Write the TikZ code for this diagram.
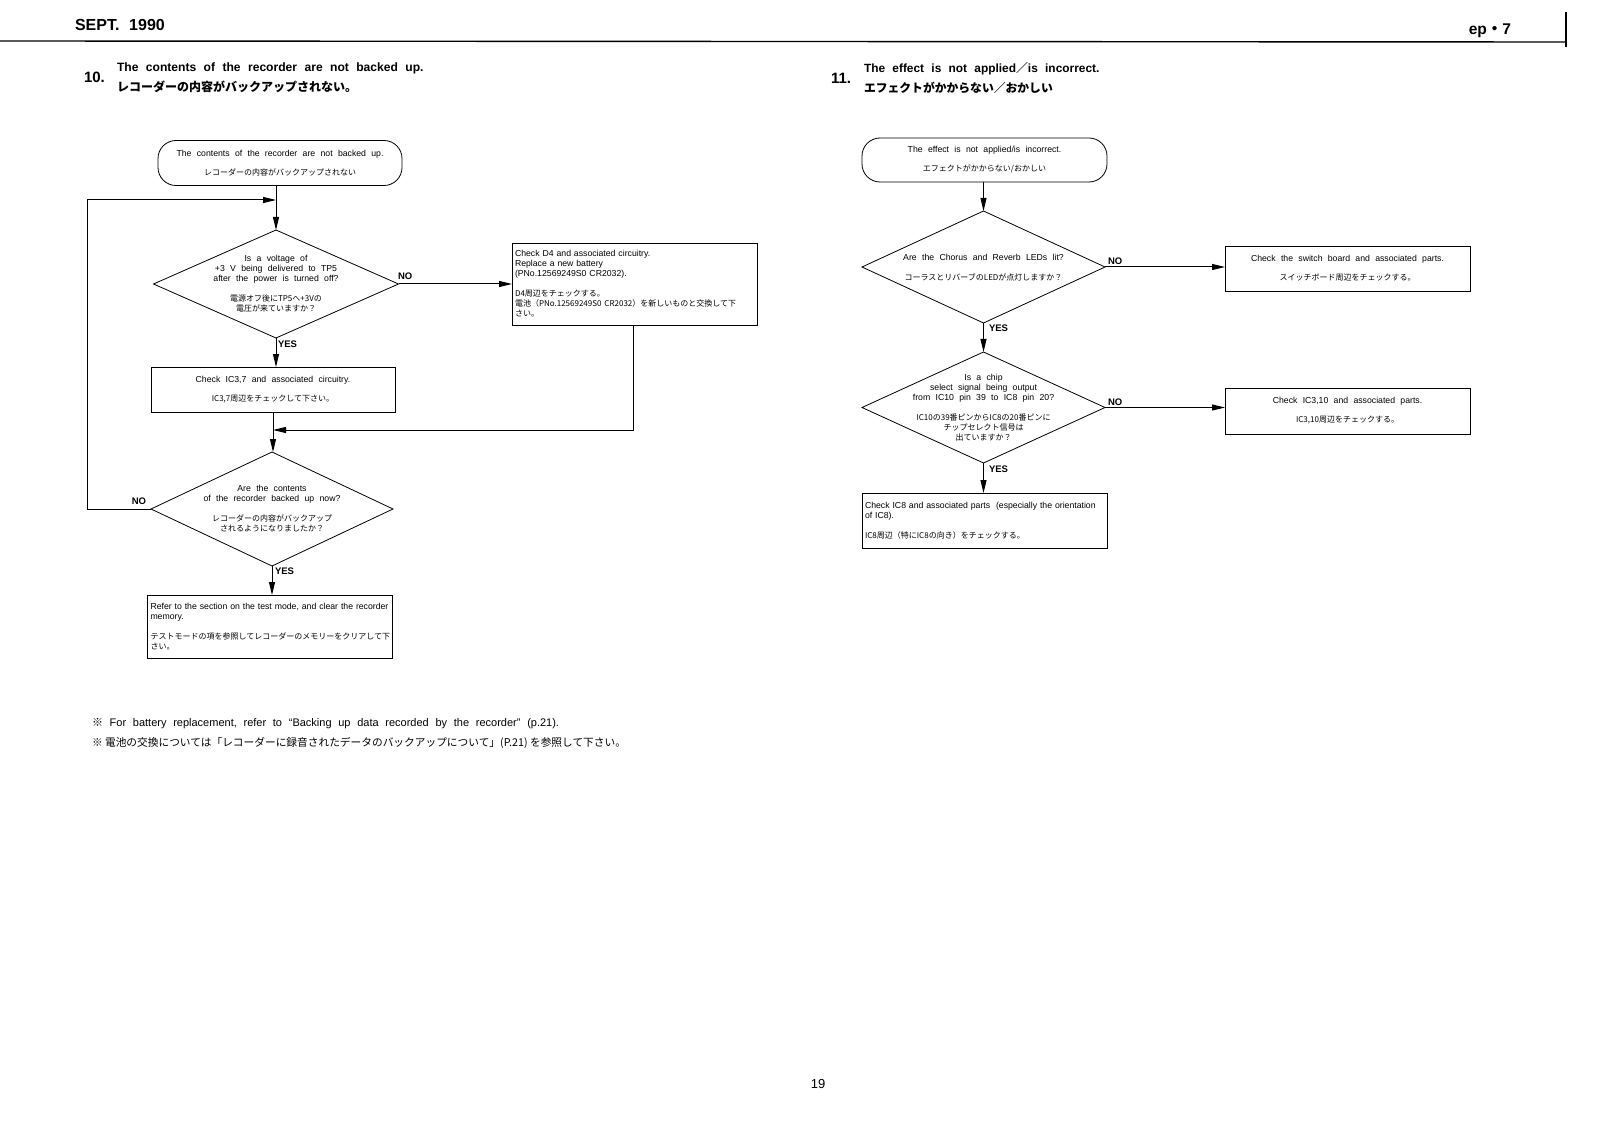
\documentclass[tikz,border=0pt]{standalone}
\usepackage{fontspec}
\setmainfont{Liberation Sans}[WordSpace=2.2]
\newfontfamily\jp{Noto Sans CJK JP}
\newcommand\jt{\jp\fontsize{8}{10}\selectfont}
\usetikzlibrary{arrows.meta,shapes.geometric}
\tikzset{
  every node/.style={inner sep=0pt, outer sep=0pt},
  txt/.style={font=\fontsize{8.7}{10}\selectfont},
  boxed/.style={draw, line width=0.8pt, txt},
  lbox/.style={boxed, inner xsep=3pt, text width=239, align=left},
  term/.style={draw, line width=0.8pt, rounded corners=18pt, txt, align=center},
  dia/.style={draw, diamond, line width=0.8pt, inner sep=0pt},
  lab/.style={font=\fontsize{9.5}{11}\selectfont\bfseries},
  arr/.style={line width=1pt, -{Triangle[length=13pt,width=6pt]}},
  ln/.style={line width=1pt},
}
\begin{document}
\begin{tikzpicture}[x=1pt,y=-1pt]
\useasboundingbox (0,0) rectangle (1600,1131);
% header
\node[font=\fontsize{16}{18}\selectfont\bfseries, anchor=base west] (hdl) at (75,31) {SEPT. 1990};
\node[font=\fontsize{15.5}{18}\selectfont\bfseries, anchor=base east] (hdr) at (1511,35) {ep{\jp ・}7};
\draw[line width=1.4pt] (0,41) coordinate (r1) -- (1565,42) coordinate (r2);
\draw[line width=1.2pt] (1566,12) coordinate (v1) -- (1566,47) coordinate (v2);
% headings
\node[font=\fontsize{15}{16}\selectfont\bfseries, anchor=base west] (n10) at (84,83) {10.};
\node[font=\fontsize{12.1}{14}\selectfont\bfseries, anchor=base west] (t10a) at (117,72) {The contents of the recorder are not backed up.};
\node[font=\fontsize{12}{14}\selectfont\bfseries\jp, anchor=base west] (t10b) at (117,92) {レコーダーの内容がバックアップされない。};
\node[font=\fontsize{15}{16}\selectfont\bfseries, anchor=base west] (n11) at (831,84) {11.};
\node[font=\fontsize{11.9}{14}\selectfont\bfseries, anchor=base west] (t11a) at (864,73) {The effect is not applied{\jp ／}is incorrect.};
\node[font=\fontsize{11.8}{14}\selectfont\bfseries\jp, anchor=base west] (t11b) at (864,93) {エフェクトがかからない／おかしい};

% ===== left flowchart =====
\node[term, minimum width=244, minimum height=45] (s1) at (280,163)
  {The contents of the recorder are not backed up.\\[9pt]{\jt レコーダーの内容がバックアップされない}};
\node[dia, minimum width=245, minimum height=108] (d1) at (276,284) {};
\node[txt, align=center] (d1t) at (276,284)
  {Is a voltage of\\+3 V being delivered to TP5\\after the power is turned off?\\[10pt]
   {\jt 電源オフ後にTP5へ+3Vの}\\{\jt 電圧が来ていますか？}};
\node[lbox, minimum height=82] (b4) at (634.5,284)
  {Check D4 and associated circuitry.\\Replace a new battery\\(PNo.12569249S0 CR2032).\\[10pt]
   {\jt D4周辺をチェックする。}\\\mbox{\jt 電池（PNo.12569249S0 CR2032）を新しいものと交換して下}\\{\jt さい。}};
\node[boxed, minimum width=244, minimum height=45, align=center] (b37) at (273,389.5)
  {Check IC3,7 and associated circuitry.\\[9pt]{\jt IC3,7周辺をチェックして下さい。}};
\node[dia, minimum width=242, minimum height=114] (d2) at (272,509) {};
\node[txt, align=center] (d2t) at (272,509)
  {Are the contents\\of the recorder backed up now?\\[10pt]
   {\jt レコーダーの内容がバックアップ}\\{\jt されるようになりましたか？}};
\node[lbox, minimum height=63] (bref) at (270,626.5)
  {\mbox{Refer to the section on the test mode, and clear the recorder}\\memory.\\[10pt]
   \mbox{\jt テストモードの項を参照してレコーダーのメモリーをクリアして下}\\{\jt さい。}};

\coordinate (j1) at (276,200);
\coordinate (j2) at (273,430);
\draw[ln] (s1.south -| j1) -- (j1);
\draw[arr] (j1) -- (d1.north);
\draw[arr] (d1.east) -- (b4.west |- d1.east);
\node[lab, anchor=south west] (no1) at (398,280) {NO};
\draw[arr] (d1.south) -- (b37.north -| d1.south);
\node[lab, anchor=north west] (yes1) at (278,341) {YES};
\draw[ln] (b37.south -| j2) -- (j2);
\draw[arr] (j2) -- (d2.north -| j2);
\draw[arr] (b4.south -| 633,0) |- (j2);
\draw[arr] (d2.west) -- (87,509) |- (j1);
\node[lab, anchor=south east] (no2) at (146,505) {NO};
\draw[arr] (d2.south) -- (bref.north -| d2.south);
\node[lab, anchor=north west] (yes2) at (275,568) {YES};

% footnotes
\node[font=\fontsize{11}{13}\selectfont, anchor=base west] (f1) at (92,726)
  {{\jp ※} For battery replacement, refer to “Backing up data recorded by the recorder” (p.21).};
\node[font=\fontsize{10.7}{13}\selectfont\jp, anchor=base west] (f2) at (92,746)
  {※ 電池の交換については「レコーダーに録音されたデータのバックアップについて」(P.21) を参照して下さい。};

% ===== right flowchart =====
\node[term, minimum width=245, minimum height=44] (s2) at (984.5,160)
  {The effect is not applied/is incorrect.\\[9pt]{\jt エフェクトがかからない/おかしい}};
\node[dia, minimum width=243, minimum height=112] (dA) at (983.5,267) {};
\node[txt, align=center] (dAt) at (983.5,268)
  {Are the Chorus and Reverb LEDs lit?\\[10pt]{\jt コーラスとリバーブのLEDが点灯しますか？}};
\node[boxed, minimum width=245, minimum height=45, align=center] (bsw) at (1347.5,268.5)
  {Check the switch board and associated parts.\\[9pt]{\jt スイッチボード周辺をチェックする。}};
\node[dia, minimum width=243, minimum height=111] (dB) at (983.5,407.5) {};
\node[txt, align=center] (dBt) at (983.5,408)
  {Is a chip\\select signal being output\\from IC10 pin 39 to IC8 pin 20?\\[10pt]
   {\jt IC10の39番ピンからIC8の20番ピンに}\\{\jt チップセレクト信号は}\\{\jt 出ていますか？}};
\node[boxed, minimum width=245, minimum height=46, align=center] (b310) at (1347.5,411)
  {Check IC3,10 and associated parts.\\[9pt]{\jt IC3,10周辺をチェックする。}};
\node[lbox, minimum height=55] (b8) at (984.5,520.5)
  {\mbox{Check IC8 and associated parts \ (especially the orientation}\\of IC8).\\[10pt]{\jt IC8周辺（特にIC8の向き）をチェックする。}};

\draw[arr] (s2.south -| dA.north) -- (dA.north);
\draw[arr] (dA.east) -- (bsw.west |- dA.east);
\node[lab, anchor=south west] (no3) at (1108,265) {NO};
\draw[arr] (dA.south) -- (dB.north);
\node[lab, anchor=north west] (yes3) at (989,325) {YES};
\draw[arr] (dB.east) -- (b310.west |- dB.east);
\node[lab, anchor=south west] (no4) at (1108,406) {NO};
\draw[arr] (dB.south) -- (b8.north -| dB.south);
\node[lab, anchor=north west] (yes4) at (989,466) {YES};

% page number
\node[font=\fontsize{13}{15}\selectfont, anchor=base] (pg) at (818,1088) {19};
\end{tikzpicture}
\end{document}
